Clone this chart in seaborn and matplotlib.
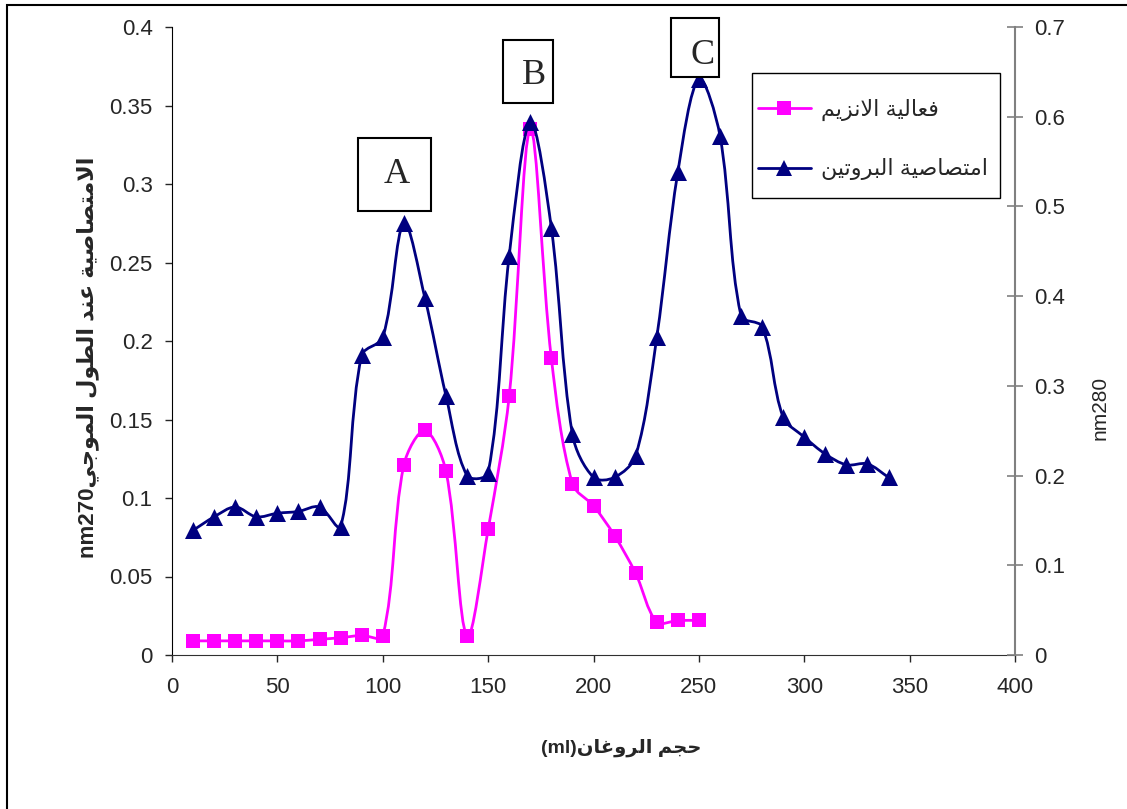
import numpy as np
import matplotlib
matplotlib.use('Agg')
import matplotlib.pyplot as plt
import seaborn as sns
from matplotlib.path import Path
from matplotlib.patches import PathPatch, Rectangle
from matplotlib.lines import Line2D

# elution volume (ml)
volume = [10, 20, 30, 40, 50, 60, 70, 80, 90, 100, 110, 120, 130, 140, 150, 160, 170,
          180, 190, 200, 210, 220, 230, 240, 250, 260, 270, 280, 290, 300, 310, 320, 330, 340]

# enzyme activity (left axis), fractions 10..250 ml
enzyme_volume = volume[:25]
enzyme = [0.009, 0.009, 0.009, 0.009, 0.009, 0.009, 0.010, 0.011, 0.0125, 0.012, 0.121, 0.143,
          0.117, 0.012, 0.080, 0.165, 0.335, 0.189, 0.109, 0.095, 0.076, 0.052, 0.021, 0.022, 0.022]

# protein absorbance (right axis)
protein = [0.139, 0.154, 0.165, 0.154, 0.158, 0.160, 0.165, 0.143, 0.334, 0.354, 0.481, 0.398,
           0.289, 0.200, 0.203, 0.445, 0.594, 0.476, 0.246, 0.198, 0.198, 0.222, 0.354, 0.538,
           0.642, 0.579, 0.378, 0.366, 0.265, 0.243, 0.224, 0.212, 0.213, 0.198]

PINK = '#FF00FF'
NAVY = '#000080'

FORMS = {
    'ا': (0xFE8D, 0xFE8E, None, None), 'ب': (0xFE8F, 0xFE90, 0xFE91, 0xFE92),
    'ة': (0xFE93, 0xFE94, None, None), 'ت': (0xFE95, 0xFE96, 0xFE97, 0xFE98),
    'ج': (0xFE9D, 0xFE9E, 0xFE9F, 0xFEA0), 'ح': (0xFEA1, 0xFEA2, 0xFEA3, 0xFEA4),
    'د': (0xFEA9, 0xFEAA, None, None), 'ر': (0xFEAD, 0xFEAE, None, None),
    'ز': (0xFEAF, 0xFEB0, None, None), 'ص': (0xFEB9, 0xFEBA, 0xFEBB, 0xFEBC),
    'ط': (0xFEC1, 0xFEC2, 0xFEC3, 0xFEC4), 'ع': (0xFEC9, 0xFECA, 0xFECB, 0xFECC),
    'غ': (0xFECD, 0xFECE, 0xFECF, 0xFED0), 'ف': (0xFED1, 0xFED2, 0xFED3, 0xFED4),
    'ل': (0xFEDD, 0xFEDE, 0xFEDF, 0xFEE0), 'م': (0xFEE1, 0xFEE2, 0xFEE3, 0xFEE4),
    'ن': (0xFEE5, 0xFEE6, 0xFEE7, 0xFEE8), 'و': (0xFEED, 0xFEEE, None, None),
    'ي': (0xFEF1, 0xFEF2, 0xFEF3, 0xFEF4),
}


def ar(text):
    # minimal arabic shaping + visual (right-to-left) ordering for matplotlib
    out = []
    i, n = 0, len(text)
    while i < n:
        c = text[i]
        if c not in FORMS:
            out.append(c)
            i += 1
            continue
        prev = text[i - 1] if i > 0 else None
        joins_prev = prev in FORMS and FORMS[prev][2] is not None
        if c == 'ل' and i + 1 < n and text[i + 1] == 'ا':
            out.append(chr(0xFEFC if joins_prev else 0xFEFB))
            i += 2
            continue
        nxt = text[i + 1] if i + 1 < n else None
        joins_next = FORMS[c][2] is not None and nxt in FORMS
        iso, fin, ini, med = FORMS[c]
        if joins_prev and joins_next:
            out.append(chr(med))
        elif joins_prev:
            out.append(chr(fin))
        elif joins_next:
            out.append(chr(ini))
        else:
            out.append(chr(iso))
        i += 1
    return ''.join(out)[::-1]


def smooth_path(ax, x, y):
    # excel-like smoothed line, bezier controls computed in pixel space
    pts = ax.transData.transform(np.column_stack([x, y]).astype(float))
    n = len(pts)
    verts, codes = [pts[0]], [Path.MOVETO]
    for i in range(n - 1):
        p0 = pts[i - 1] if i > 0 else pts[i]
        p1, p2 = pts[i], pts[i + 1]
        p3 = pts[i + 2] if i + 2 < n else pts[i + 1]
        d01 = np.hypot(*(p1 - p0))
        d12 = np.hypot(*(p2 - p1))
        d23 = np.hypot(*(p3 - p2))
        f1 = d12 / (d01 + d12) / 3 if d01 + d12 > 0 else 0
        f2 = d12 / (d12 + d23) / 3 if d12 + d23 > 0 else 0
        verts += [p1 + (p2 - p0) * f1, p2 - (p3 - p1) * f2, p2]
        codes += [Path.CURVE4] * 3
    verts = ax.transData.inverted().transform(np.array(verts))
    return Path(verts, codes)


sns.set_style('white')
plt.rcParams['font.family'] = ['Liberation Sans', 'DejaVu Sans']

fig = plt.figure(figsize=(11.27, 8.09), dpi=100)
ax = fig.add_axes([172 / 1127, 1 - 655 / 809, 843 / 1127, 628 / 809])
ax2 = ax.twinx()

ax.set_xlim(0, 400)
ax.set_ylim(0, 0.4)
ax2.set_ylim(0, 0.7)

ax.add_patch(PathPatch(smooth_path(ax, enzyme_volume, enzyme), fill=False, ec=PINK, lw=2, zorder=2))
sns.scatterplot(x=enzyme_volume, y=enzyme, marker='s', s=110, color=PINK, edgecolor=PINK,
                linewidth=0, ax=ax, zorder=3)

ax2.add_patch(PathPatch(smooth_path(ax2, volume, protein), fill=False, ec=NAVY, lw=2, zorder=2))
sns.scatterplot(x=volume, y=protein, marker='^', s=150, color=NAVY, edgecolor=NAVY,
                linewidth=0, ax=ax2, zorder=3)

ax.set_xlim(0, 400)
ax.set_ylim(0, 0.4)
ax2.set_ylim(0, 0.7)
ax.set_xticks(np.arange(0, 401, 50))
ax.set_yticks(np.arange(0, 0.401, 0.05))
ax2.set_yticks(np.arange(0, 0.701, 0.1))
ax.set_yticklabels([f'{v:g}' for v in np.round(np.arange(0, 0.401, 0.05), 2)])
ax2.set_yticklabels([f'{v:g}' for v in np.round(np.arange(0, 0.701, 0.1), 1)])

ax.tick_params(axis='y', direction='out', length=5, width=1, pad=9, labelsize=16, left=True)
ax.tick_params(axis='x', direction='out', length=5, width=1, pad=11, labelsize=16, bottom=True)
ax2.tick_params(axis='y', direction='inout', length=12, width=1.2, pad=8, labelsize=16,
                right=True, color='#808080')

for a in (ax, ax2):
    a.spines['top'].set_visible(False)
    a.set_facecolor('none')
ax.spines['left'].set_color('black')
ax.spines['bottom'].set_color('#303030')
ax.spines['right'].set_visible(False)
ax2.spines['left'].set_visible(False)
ax2.spines['bottom'].set_visible(False)
ax2.spines['right'].set_color('#808080')
ax2.spines['right'].set_linewidth(1.5)
ax.set_xlabel('')
ax.set_ylabel('')
ax2.set_ylabel('')

# peak boxes
serif = ['Liberation Serif', 'DejaVu Serif']
for (x0, y0, x1, y1), (tx, ty), lab in [((88.3, 0.2828, 122.9, 0.3293), (106.4, 0.306), 'A'),
                                        ((157.1, 0.3516, 180.8, 0.3917), (171.8, 0.369), 'B'),
                                        ((236.6, 0.3684, 259.7, 0.4055), (251.8, 0.382), 'C')]:
    ax2.add_patch(Rectangle((x0, y0 * 0.7 / 0.4), x1 - x0, (y1 - y0) * 0.7 / 0.4, fill=True,
                            fc='white', ec='black', lw=1.5, clip_on=False, zorder=5))
    ax2.text(tx, ty * 0.7 / 0.4, lab, family=serif, fontsize=26, ha='center', va='center', zorder=6)

# legend frame drawn separately so the padding can match the excel box
ax2.add_patch(Rectangle((0.688, 0.7277), 0.294, 0.1993, transform=ax2.transAxes, fc='white',
                        ec='black', lw=1, zorder=6))
handles = [Line2D([], [], color=PINK, lw=2, marker='s', markersize=10, markeredgewidth=0),
           Line2D([], [], color=NAVY, lw=2, marker='^', markersize=12, markeredgewidth=0)]
leg = ax2.legend(handles, [ar('فعالية الانزيم'), ar('امتصاصية البروتين')],
                 loc='upper left', bbox_to_anchor=(0.688, 0.895), fontsize=16, frameon=False,
                 handlelength=2.4, labelspacing=1.7, borderpad=0.25, handletextpad=0.45,
                 borderaxespad=0)
leg.set_zorder(7)

fig.text(88 / 1127, 1 - 357 / 809, 'nm270' + ar('الامتصاصية عند الطول الموجي'),
         rotation=90, ha='center', va='center', fontsize=16, fontweight='bold')
fig.text(1100 / 1127, 1 - 408 / 809, 'nm280', rotation=90, ha='center', va='center', fontsize=15)
fig.text(621 / 1127, 1 - 748 / 809, '(ml)' + ar('حجم الروغان'), ha='center', va='center',
         fontsize=14, fontweight='bold')

fig.add_artist(Rectangle((7 / 1127, -0.1), 1.2, 1.1 - 5 / 809, transform=fig.transFigure,
                         fill=False, ec='black', lw=1.5))

fig.savefig('out.png', dpi=100)
